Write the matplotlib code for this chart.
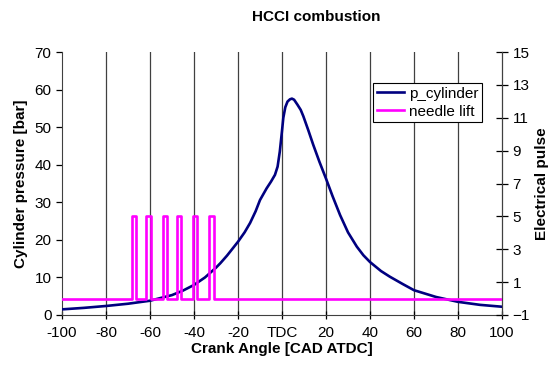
import matplotlib
matplotlib.use("Agg")
import matplotlib.pyplot as plt

plt.rcParams['font.family'] = ['Liberation Sans', 'DejaVu Sans']

# Cylinder pressure readings (CAD ATDC, bar)
cad = [-100, -90, -80, -70, -60, -50, -45, -40, -35, -30, -28, -25, -20, -17, -14.5,
       -12, -10, -7, -5, -3.2, -2, -1, 0, 0.6, 1.5, 2.5, 3.6, 4.5, 5.5, 7, 8.5, 9.7,
       12, 14.2, 17, 20, 23, 26.4, 30, 34, 37, 40, 45, 49, 55, 60, 70, 80, 90, 100]
pressure = [1.5, 1.9, 2.4, 3.0, 3.8, 5.3, 6.5, 8.0, 10.0, 12.6, 13.8, 15.8, 19.5, 22.0, 24.5,
            27.6, 30.6, 33.7, 35.5, 37.3, 39.5, 43.5, 49.0, 52.5, 55.3, 56.8, 57.4, 57.6, 57.3, 56.0, 54.6, 52.9,
            49.1, 45.3, 40.8, 36.3, 31.6, 26.6, 22.0, 18.2, 15.9, 14.1, 11.7, 10.2, 8.2, 6.6, 4.8, 3.5, 2.7, 2.2]

# Needle lift pulses (start/end CAD), level on electrical pulse axis
pulse_start = [-68.2, -61.8, -54.2, -47.7, -40.3, -33.2]
pulse_end = [-66.4, -59.6, -52.4, -45.9, -38.5, -31.0]
pulse_level = 5
base_level = 0
cad_min, cad_max = -100, 100

xticks = [-100, -80, -60, -40, -20, 0, 20, 40, 60, 80, 100]
xticklabels = ['-100', '-80', '-60', '-40', '-20', 'TDC', '20', '40', '60', '80', '100']
left_ticks = [0, 10, 20, 30, 40, 50, 60, 70]
right_ticks = [-1, 1, 3, 5, 7, 9, 11, 13, 15]

# build needle-lift step trace
nx = [cad_min]
ny = [base_level]
for s, e in zip(pulse_start, pulse_end):
    nx += [s, s, e, e]
    ny += [base_level, pulse_level, pulse_level, base_level]
nx.append(cad_max)
ny.append(base_level)

fig = plt.figure(figsize=(5.52, 3.68), dpi=100)
ax = fig.add_axes([62/552, 1-315/368, 440/552, 263/368])
ax2 = ax.twinx()

for xv in xticks[1:-1]:
    ax.axvline(xv, color='#404040', lw=0.9, zorder=0)

l1, = ax.plot(cad, pressure, color='#000080', lw=1.9, label='p_cylinder', zorder=3,
              solid_joinstyle='round')
l2, = ax2.plot(nx, ny, color='#FF00FF', lw=1.9, label='needle lift', zorder=3)

ax.set_xlim(cad_min, cad_max)
ax.set_ylim(0, 70)
ax2.set_ylim(-1, 15)
ax.set_xticks(xticks)
ax.set_xticklabels(xticklabels)
ax.set_yticks(left_ticks)
ax2.set_yticks(right_ticks)

for a in (ax, ax2):
    a.spines['top'].set_visible(False)
ax.tick_params(axis='x', direction='inout', length=6, width=0.9, labelsize=11, pad=5)
ax.tick_params(axis='y', direction='out', length=4, width=0.9, labelsize=11)
ax2.tick_params(axis='y', direction='inout', length=8, width=0.9, labelsize=11)
for s in ('left', 'bottom'):
    ax.spines[s].set_color('#404040')
ax2.spines['right'].set_color('#404040')
ax2.spines['left'].set_visible(False)
ax2.spines['bottom'].set_visible(False)

ax.set_xlabel('Crank Angle [CAD ATDC]', fontsize=11, fontweight='bold', labelpad=1)
ax.set_ylabel('Cylinder pressure [bar]', fontsize=11, fontweight='bold', labelpad=5)
ax2.set_ylabel('Electrical pulse', fontsize=11, fontweight='bold', labelpad=4)

fig.text(316/552, 1-17/368, 'HCCI combustion', ha='center', va='center',
         fontsize=11, fontweight='bold')

leg = ax2.legend([l1, l2], ['p_cylinder', 'needle lift'], loc='upper left',
                 bbox_to_anchor=((373-62)/440, (315-83)/263), fontsize=11,
                 frameon=True, fancybox=False, edgecolor='black', framealpha=1,
                 handlelength=1.8, handletextpad=0.3, borderpad=0.25, labelspacing=0.25,
                 borderaxespad=0)
leg.get_frame().set_linewidth(0.8)

fig.savefig('out.png', dpi=100)
